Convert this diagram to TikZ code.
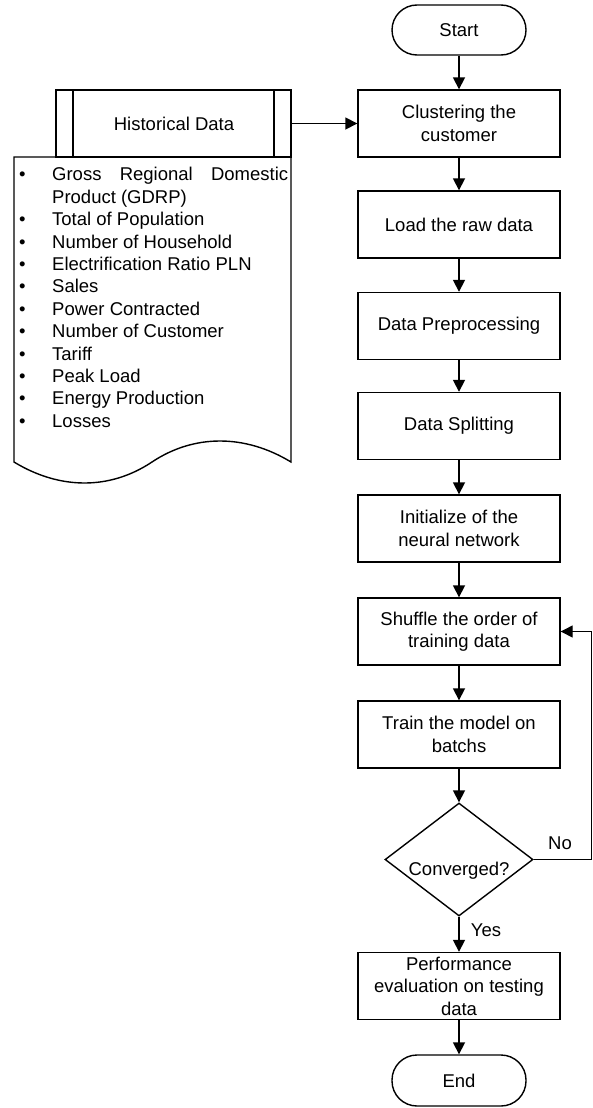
\documentclass[tikz,border=0pt]{standalone}
\usepackage{fontspec}
\setmainfont{Liberation Sans}
\usetikzlibrary{arrows.meta,shapes.geometric}
\begin{document}
\begin{tikzpicture}[x=1pt,y=-1pt,
  every node/.style={font=\fontsize{18.5}{22.4}\selectfont},
  proc/.style={draw, line width=1.4pt, minimum width=202pt, minimum height=67pt, align=center, inner sep=0pt},
  term/.style={draw, line width=1.4pt, minimum width=134pt, minimum height=50pt, rounded corners=25pt, inner sep=0pt},
  flow/.style={line width=1.7pt, -{Triangle[length=12pt,width=12pt]}},
  thin/.style={line width=1.4pt},
]
\useasboundingbox (0,0) rectangle (593,1108);

% flow nodes
\node[term] (start) at (459,30) {Start};
\node[proc] (clus) at (459,123.5) {Clustering the\\customer};
\node[proc] (load) at (459,224.5) {Load the raw data};
\node[proc] (prep) at (459,326) {Data Preprocessing};
\node[proc] (split) at (459,426) {Data Splitting};
\node[proc] (init) at (459,528.5) {Initialize of the\\neural network};
\node[proc] (shuf) at (459,631.5) {Shuffle the order of\\training data};
\node[proc] (train) at (459,734.5) {Train the model on\\batchs};
\node[diamond, draw, thin, minimum width=148pt, minimum height=113pt, inner sep=0pt] (conv) at (459,859.5) {};
\node (convtxt) at (459,871) {Converged?};
\node[proc] (perf) at (459,986) {Performance\\evaluation on testing\\data};
\node[term, minimum height=51pt] (end) at (459,1080.5) {End};

% historical data
\node[draw, thin, minimum width=235pt, minimum height=67pt, inner sep=0pt] (hist) at (173.5,123.5) {};
\node (histtxt) at (174,123.5) {Historical Data};
\draw[thin] (73,90) -- (73,157);
\draw[thin] (274,90) -- (274,157);
\draw[thin] (14,157) -- (14,462) .. controls (60,490) and (110,490) .. (152,462)
  .. controls (194,434) and (245,434) .. (291,462) -- (291,157) -- cycle;

\node[anchor=north west, inner sep=0pt, align=left] (list) at (19,165) {%
\fontsize{18.5}{22.4}\selectfont
\begin{tabular}{@{}p{33pt}@{}p{236pt}@{}}
\textbullet & \makebox[236pt][s]{Gross Regional Domestic}\\
 & Product (GDRP)\\
\textbullet & Total of Population\\
\textbullet & Number of Household\\
\textbullet & Electrification Ratio PLN\\
\textbullet & Sales\\
\textbullet & Power Contracted\\
\textbullet & Number of Customer\\
\textbullet & Tariff\\
\textbullet & Peak Load\\
\textbullet & Energy Production\\
\textbullet & Losses
\end{tabular}};

% connectors
\draw[flow] (hist.east) -- (clus.west);
\draw[flow] (start) -- (clus);
\draw[flow] (clus) -- (load);
\draw[flow] (load) -- (prep);
\draw[flow] (prep) -- (split);
\draw[flow] (split) -- (init);
\draw[flow] (init) -- (shuf);
\draw[flow] (shuf) -- (train);
\draw[flow] (train) -- (conv.north);
\draw[flow] (conv.south) -- (perf);
\draw[flow] (perf) -- (end);
\coordinate (loopc) at (591.5,0);
\draw[flow, line width=1.3pt] (conv.east) -- (conv.east -| loopc) |- (shuf.east);

\node (yes) at (486,930) {Yes};
\node (no) at (560,843) {No};
\end{tikzpicture}
\end{document}
